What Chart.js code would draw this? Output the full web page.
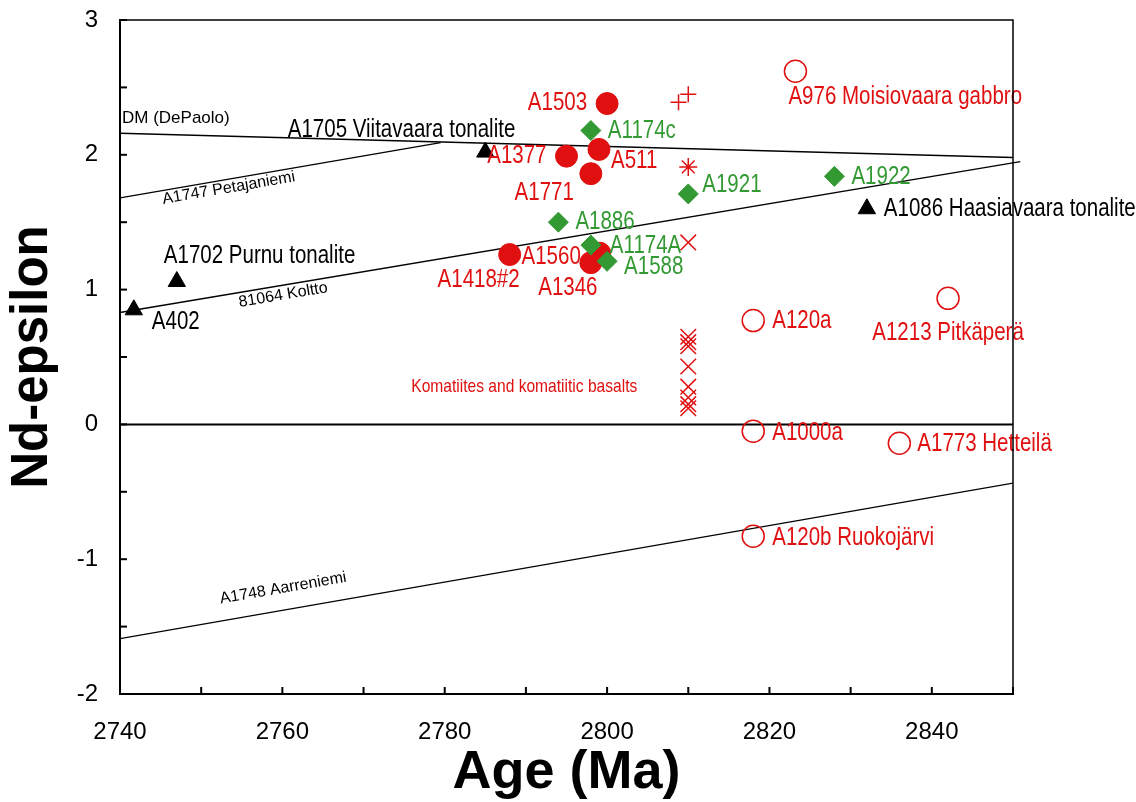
<!DOCTYPE html>
<html>
<head>
<meta charset="utf-8">
<script src="https://cdn.jsdelivr.net/npm/chart.js@4"></script>
<style>
  html, body { margin: 0; padding: 0; background: #fff; }
</style>
</head>
<body>
<canvas id="graficoNd" width="1136" height="802"></canvas>
<script>
// values: age (Ma) and epsilon Nd
const filledNames = ["A1503", "A511", "A1377", "A1771", "A1418#2", "A1560", "A1346"];
const filledAge = [2800, 2799, 2795, 2798, 2788, 2799.1, 2798];
const filledEps = [2.38, 2.04, 1.99, 1.86, 1.26, 1.27, 1.20];

const greenNames = ["A1174c", "A1921", "A1886", "A1174A", "A1588", "A1922"];
const greenAge = [2798, 2810, 2794, 2798, 2800, 2828];
const greenEps = [2.18, 1.71, 1.50, 1.33, 1.21, 1.84];

const triNames = ["A1705 Viitavaara tonalite", "A1702 Purnu tonalite", "A402", "A1086 Haasiavaara tonalite"];
const triAge = [2785, 2747, 2741.7, 2832];
const triEps = [2.02, 1.06, 0.85, 1.60];

const openNames = ["A976 Moisiovaara gabbro", "A120a", "A1213 Pitkäperä", "A1000a", "A1773 Hetteilä", "A120b Ruokojärvi"];
const openAge = [2823.2, 2818, 2842, 2818, 2836, 2818];
const openEps = [2.62, 0.77, 0.935, -0.05, -0.14, -0.83];

const komAge = [2810, 2810, 2810, 2810, 2810, 2810, 2810, 2810, 2810];
const komEps = [1.35, 0.65, 0.61, 0.58, 0.43, 0.28, 0.20, 0.15, 0.12];
const plusAge = [2808.8, 2810];
const plusEps = [2.39, 2.45];
const starAge = [2810];
const starEps = [1.91];

// evolution lines
const dmAge = [2740, 2850], dmEps = [2.16, 1.98];
const petAge = [2740, 2779.5], petEps = [1.68, 2.09];
const koltAge = [2740, 2850.9], koltEps = [0.83, 1.95];
const aarAge = [2740, 2850], aarEps = [-1.59, -0.435];
const zeroAge = [2740, 2850], zeroEps = [0, 0];

const xLabels = [2740, 2760, 2780, 2800, 2820, 2840];
const yLabels = [-2, -1, 0, 1, 2, 3];

// label placement next to each point: [dx, dy, align]
const filledPlace = [[-20, 0, "right"], [12, 12, "left"], [-20, 0, "right"], [-17, 19, "right"], [10, 26, "right"], [-19, 4, "right"], [-23, 25, "center"]];
const greenPlace = [[17, 1, "left"], [14, -9, "left"], [17, 0, "left"], [19, 1, "left"], [17, 6, "left"], [17, 1, "left"]];
const triPlace = [[30, -22, "right"], [-13, -25, "left"], [18, 12, "left"], [17, 0, "left"]];
const openPlace = [[-7, 26, "left"], [19, 1, "left"], [0, 35, "center"], [19, 2, "left"], [18, 1, "left"], [19, 2, "left"]];

const RED = "#e01010";
const GREEN = "#339933";

const pts = (xs, ys) => xs.map((v, i) => ({ x: v, y: ys[i] }));

// narrow font for the point labels, or squeeze the normal one
const probe = document.createElement("canvas").getContext("2d");
probe.font = '24px "Liberation Sans Narrow"';
const wNarrow = probe.measureText("Moisiovaara gabbro").width;
probe.font = '24px "Liberation Sans"';
const hasNarrow = wNarrow < probe.measureText("Moisiovaara gabbro").width * 0.9;

function drawText(ctx, text, x, y, align, color, size, narrow, angle) {
  ctx.save();
  ctx.translate(x, y);
  if (angle) ctx.rotate(angle);
  if (narrow && !hasNarrow) ctx.scale(0.82, 1);
  const fam = narrow && hasNarrow ? '"Liberation Sans Narrow"' : '"Liberation Sans"';
  ctx.font = size + "px " + fam;
  ctx.textAlign = align;
  ctx.textBaseline = "middle";
  ctx.fillStyle = color;
  ctx.fillText(text, 0, 0);
  ctx.restore();
}

const lineNotes = [
  { label: "DM", text: "DM (DePaolo)", age: 2740, dx: 2, dy: -15, align: "left", size: 17, rotate: false },
  { label: "Petajaniemi", text: "A1747 Petajaniemi", age: 2753.4, dx: 0, dy: 9, align: "center", size: 16, rotate: true },
  { label: "Koltto", text: "81064 Koltto", age: 2760.1, dx: 0, dy: 10, align: "center", size: 16, rotate: true },
  { label: "Aarreniemi", text: "A1748 Aarreniemi", age: 2760.1, dx: 0, dy: -22, align: "center", size: 16, rotate: true }
];

const labelsPlugin = {
  id: "labelsPlugin",
  afterDatasetsDraw(chart) {
    const { ctx, scales: { x, y } } = chart;
    chart.data.datasets.forEach((ds, di) => {
      if (!ds.names) return;
      const meta = chart.getDatasetMeta(di);
      ds.names.forEach((name, i) => {
        const p = meta.data[i];
        const [dx, dy, align] = ds.place[i];
        drawText(ctx, name, p.x + dx, p.y + dy, align, ds.labelColor, 25, true);
      });
    });

    // komatiite note
    const km = chart.getDatasetMeta(chart.data.datasets.findIndex(d => d.label === "komatiites"));
    const kp = km.data[5];
    drawText(ctx, "Komatiites and komatiitic basalts", kp.x - 51, kp.y, "right", RED, 19, true);

    // line names
    lineNotes.forEach(n => {
      const ds = chart.data.datasets.find(d => d.label === n.label);
      const a = ds.data[0], b = ds.data[ds.data.length - 1];
      const eps = a.y + (b.y - a.y) * (n.age - a.x) / (b.x - a.x);
      const px = x.getPixelForValue(n.age) + n.dx;
      const py = y.getPixelForValue(eps) + n.dy;
      const ang = n.rotate ? Math.atan2(y.getPixelForValue(b.y) - y.getPixelForValue(a.y),
                                        x.getPixelForValue(b.x) - x.getPixelForValue(a.x)) : 0;
      drawText(ctx, n.text, px, py, n.align, "#000", n.size, false, ang);
    });
  }
};

const framePlugin = {
  id: "framePlugin",
  afterDraw(chart) {
    const { ctx, chartArea: a, scales: { x, y } } = chart;
    ctx.save();
    ctx.strokeStyle = "#000";
    ctx.lineWidth = 1.5;
    ctx.beginPath();
    ctx.moveTo(a.left, a.top);
    ctx.lineTo(a.right, a.top);
    ctx.lineTo(a.right, a.bottom);
    ctx.stroke();
    ctx.lineWidth = 2;
    x.ticks.forEach(t => {
      const px = x.getPixelForValue(t.value);
      ctx.beginPath(); ctx.moveTo(px, a.bottom); ctx.lineTo(px, a.bottom - 7); ctx.stroke();
    });
    y.ticks.forEach(t => {
      const py = y.getPixelForValue(t.value);
      ctx.beginPath(); ctx.moveTo(a.left, py); ctx.lineTo(a.left + 7, py); ctx.stroke();
    });
    ctx.restore();
  }
};

const lineSet = (label, xs, ys, w, extra) => Object.assign({
  label: label, data: pts(xs, ys), showLine: true, pointRadius: 0,
  borderColor: "#000", borderWidth: w, fill: false, order: 10
}, extra || {});

Chart.defaults.font.family = '"Liberation Sans", Arial, sans-serif';
Chart.defaults.color = "#000";

new Chart(document.getElementById("graficoNd").getContext("2d"), {
  type: "scatter",
  data: {
    datasets: [
      lineSet("zero", zeroAge, zeroEps, 2),
      lineSet("DM", dmAge, dmEps, 1.6),
      lineSet("Petajaniemi", petAge, petEps, 1.3),
      lineSet("Koltto", koltAge, koltEps, 1.3, { clip: false }),
      lineSet("Aarreniemi", aarAge, aarEps, 1.3),
      {
        label: "filled", data: pts(filledAge, filledEps), names: filledNames, place: filledPlace, labelColor: RED,
        pointStyle: "circle", pointRadius: 11, backgroundColor: RED, borderColor: RED, borderWidth: 1, order: 1
      },
      {
        label: "green", data: pts(greenAge, greenEps), names: greenNames, place: greenPlace, labelColor: GREEN,
        pointStyle: "rectRot", pointRadius: 10, backgroundColor: GREEN, borderColor: GREEN, borderWidth: 1, order: 0
      },
      {
        label: "tri", data: pts(triAge, triEps), names: triNames, place: triPlace, labelColor: "#000",
        pointStyle: "triangle", pointRadius: 10, backgroundColor: "#000", borderColor: "#000", borderWidth: 1, order: 0
      },
      {
        label: "open", data: pts(openAge, openEps), names: openNames, place: openPlace, labelColor: RED,
        pointStyle: "circle", pointRadius: 11, backgroundColor: "rgba(0,0,0,0)", borderColor: RED, borderWidth: 1.5, order: 0
      },
      {
        label: "komatiites", data: pts(komAge, komEps),
        pointStyle: "crossRot", pointRadius: 11, borderColor: RED, borderWidth: 1.5, order: 0
      },
      {
        label: "plus", data: pts(plusAge, plusEps),
        pointStyle: "cross", pointRadius: 8, borderColor: RED, borderWidth: 1.5, order: 0
      },
      {
        label: "star", data: pts(starAge, starEps),
        pointStyle: "star", pointRadius: 9, borderColor: RED, borderWidth: 1.5, order: 0
      }
    ]
  },
  options: {
    responsive: false,
    animation: false,
    events: [],
    layout: { padding: { left: 0, top: 20, right: 123, bottom: 0 } },
    plugins: { legend: { display: false }, tooltip: { enabled: false } },
    scales: {
      x: {
        type: "linear", min: 2740, max: 2850,
        grid: { display: false, drawTicks: false },
        border: { display: true, color: "#000", width: 2 },
        ticks: {
          stepSize: 10, autoSkip: false, maxRotation: 0, padding: 24,
          font: { size: 24 }, color: "#000",
          callback: v => xLabels.includes(v) ? String(v) : ""
        },
        title: {
          display: true, text: "Age (Ma)", color: "#000",
          font: { size: 54, weight: "bold", lineHeight: 1 }, padding: { top: 0, bottom: 2 }
        },
        afterFit: s => { s.height = 108; s.paddingLeft = 0; s.paddingRight = 0; }
      },
      y: {
        type: "linear", min: -2, max: 3,
        grid: { display: false, drawTicks: false },
        border: { display: true, color: "#000", width: 2 },
        ticks: {
          stepSize: 0.5, autoSkip: false, padding: 22,
          font: { size: 24 }, color: "#000",
          callback: v => yLabels.includes(v) ? String(v) : ""
        },
        title: {
          display: true, text: "Nd-epsilon", color: "#000",
          font: { size: 51, weight: "bold", lineHeight: 1 }, padding: { top: 7, bottom: 0 }
        },
        afterFit: s => { s.width = 120; s.paddingTop = 0; s.paddingBottom = 0; }
      }
    }
  },
  plugins: [labelsPlugin, framePlugin]
});
</script>
</body>
</html>
